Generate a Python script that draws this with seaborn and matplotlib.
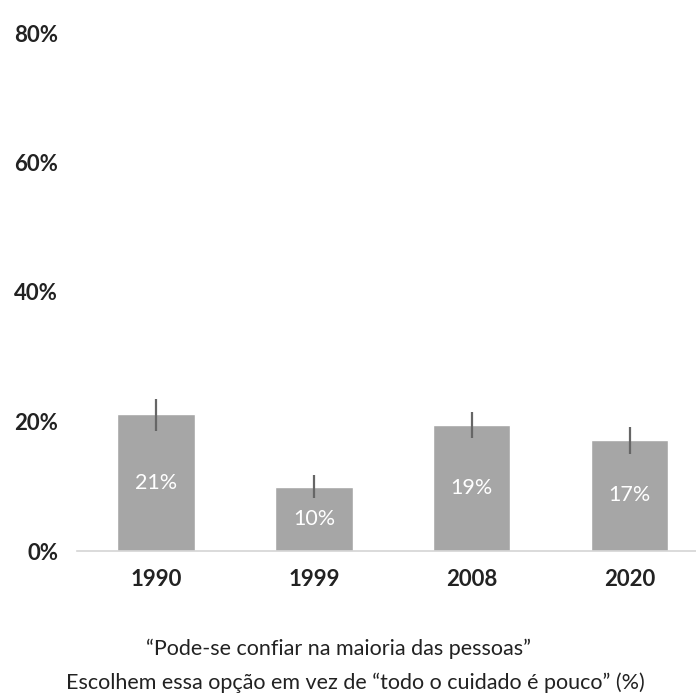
import matplotlib
matplotlib.use("Agg")
import matplotlib.pyplot as plt
import seaborn as sns
import pandas as pd

years = ["1990", "1999", "2008", "2020"]
values = [21.1, 9.9, 19.4, 17.2]
err_low = [18.6, 8.2, 17.5, 15.0]
err_high = [23.4, 11.8, 21.4, 19.2]
bar_labels = ["21%", "10%", "19%", "17%"]
y_ticks = [0, 20, 40, 60, 80]
caption_1 = "\u201cPode-se confiar na maioria das pessoas\u201d"
caption_2 = "Escolhem essa op\u00e7\u00e3o em vez de \u201ctodo o cuidado \u00e9 pouco\u201d (%)"

sns.set_style("white")
plt.rcParams["font.family"] = ["Lato", "DejaVu Sans"]

df = pd.DataFrame({"year": years, "value": values})

fig = plt.figure(figsize=(6.96, 6.95), dpi=100)
ax = fig.add_axes([77 / 696, 1 - 551 / 695, (696 - 77) / 696, 518 / 695])

sns.barplot(data=df, x="year", y="value", color="#a6a6a6", saturation=1,
            width=0.49, errorbar=None, ax=ax)

# confidence intervals
ax.vlines(range(len(years)), err_low, err_high, color="#666666", lw=1.6, zorder=3)

for i, (v, lab) in enumerate(zip(values, bar_labels)):
    ax.text(i, v / 2, lab, ha="center", va="center", color="white", fontsize=15.5)

ax.set_xlim(-0.5, 3.42)
ax.set_ylim(0, 80)
ax.set_yticks(y_ticks)
ax.set_yticklabels([f"{t}%" for t in y_ticks], fontsize=16, fontweight="bold", color="#222222")
ax.tick_params(axis="y", length=0, pad=13.5)
ax.tick_params(axis="x", length=0, pad=13, labelsize=16, labelcolor="#222222")
for lab in ax.get_xticklabels():
    lab.set_fontweight("bold")
ax.set_xlabel("")
ax.set_ylabel("")
for s in ["top", "right", "left"]:
    ax.spines[s].set_visible(False)
ax.spines["bottom"].set_color("#d4d4d4")
ax.spines["bottom"].set_linewidth(1.2)

fig.text(339 / 696, 1 - 655 / 695, caption_1, ha="center", va="baseline", fontsize=15.5, color="#222222")
fig.text(355 / 696, 1 - 689 / 695, caption_2, ha="center", va="baseline", fontsize=15.5, color="#222222")

fig.savefig("out.png", dpi=100)
